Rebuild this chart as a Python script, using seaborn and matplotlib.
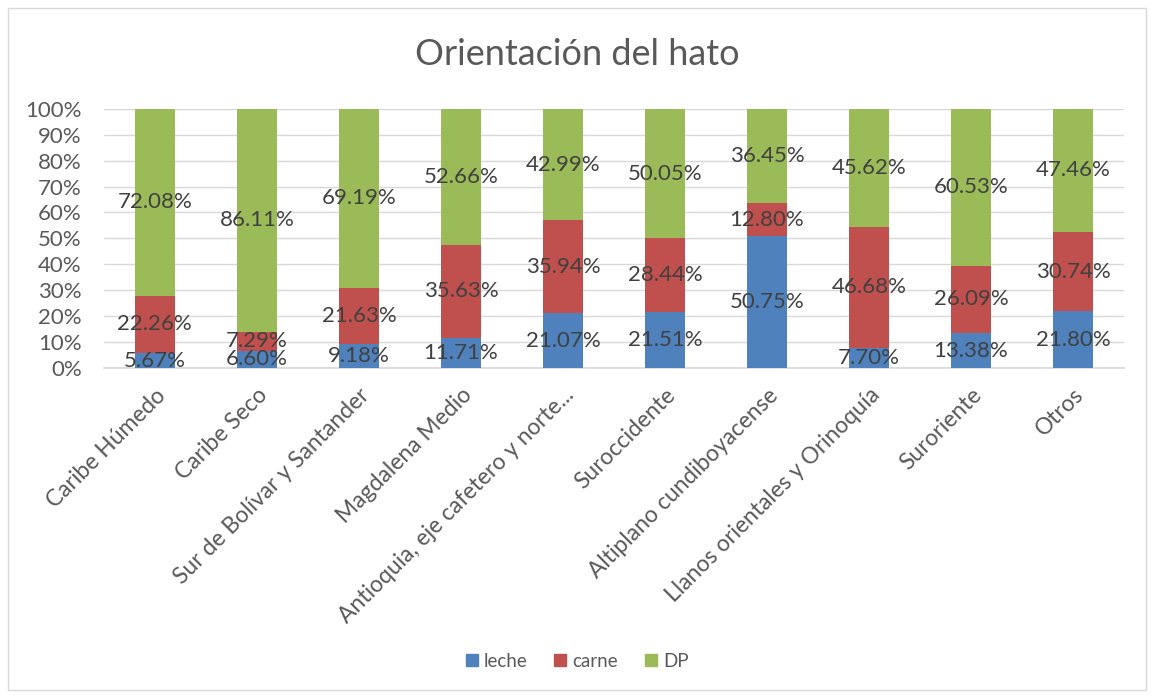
import numpy as np
import pandas as pd
import matplotlib
matplotlib.use("Agg")
import matplotlib.pyplot as plt
from matplotlib.patches import Rectangle
from matplotlib.lines import Line2D
import seaborn as sns

regions = ["Caribe Húmedo", "Caribe Seco", "Sur de Bolívar y Santander", "Magdalena Medio",
           "Antioquia, eje cafetero y norte...", "Suroccidente", "Altiplano cundiboyacense",
           "Llanos orientales y Orinoquía", "Suroriente", "Otros"]
leche = [5.67, 6.60, 9.18, 11.71, 21.07, 21.51, 50.75, 7.70, 13.38, 21.80]
carne = [22.26, 7.29, 21.63, 35.63, 35.94, 28.44, 12.80, 46.68, 26.09, 30.74]
dp = [72.08, 86.11, 69.19, 52.66, 42.99, 50.05, 36.45, 45.62, 60.53, 47.46]
series_names = ["leche", "carne", "DP"]
colors = ["#4F81BD", "#C0504D", "#9BBB59"]
yticks = [0, 10, 20, 30, 40, 50, 60, 70, 80, 90, 100]

sns.set_theme(style="white")
plt.rcParams['font.family'] = ['Lato', 'DejaVu Sans']

L = np.array(leche); C = np.array(carne); D = np.array(dp)
tot = L + C + D
Ln = L / tot; Cn = C / tot; Dn = D / tot
df = pd.DataFrame({"region": regions, "c1": Ln, "c2": Ln + Cn, "c3": Ln + Cn + Dn})

fig = plt.figure(figsize=(11.54, 6.98), dpi=100)
ax = fig.add_axes([0.090, 0.473, 0.884, 0.371])

for col, color in zip(["c3", "c2", "c1"], colors[::-1]):
    sns.barplot(data=df, x="region", y=col, order=regions, color=color, width=0.39,
                saturation=1, ax=ax, zorder=3, edgecolor="none", linewidth=0)

ax.set_ylim(0, 1)
ax.set_yticks([v / 100 for v in yticks])
ax.set_yticklabels([f"{v}%" for v in yticks], fontsize=16, color="#595959")
ax.yaxis.grid(True, color="#D9D9D9", linewidth=1, zorder=0)
ax.set_axisbelow(True)
ax.set_xlabel("")
ax.set_ylabel("")
for s in ["top", "right", "left"]:
    ax.spines[s].set_visible(False)
ax.spines["bottom"].set_color("#D9D9D9")
ax.tick_params(axis="y", length=0, pad=16)
ax.tick_params(axis="x", length=0, pad=12)
ax.set_xticks(range(len(regions)))
ax.set_xticklabels(regions, rotation=45, ha="right", rotation_mode="anchor",
                   fontsize=16.5, color="#595959")
ax.set_xlim(-0.5, len(regions) - 0.5)

# data labels at segment centres
for i in range(len(regions)):
    bottoms = [0, Ln[i], Ln[i] + Cn[i]]
    heights = [Ln[i], Cn[i], Dn[i]]
    vals = [leche[i], carne[i], dp[i]]
    for b, h, v in zip(bottoms, heights, vals):
        ax.text(i, b + h / 2, f"{v:.2f}%", ha="center", va="center", fontsize=16,
                color="#404040", zorder=5)

fig.text(0.5, 0.922, "Orientación del hato", ha="center", va="center", fontsize=26,
         color="#595959")

handles = [Line2D([0], [0], marker="s", linestyle="none", markersize=8,
                  markerfacecolor=c, markeredgecolor=c) for c in colors]
fig.legend(handles, series_names, loc="center", bbox_to_anchor=(0.5, 0.053), ncol=3,
           frameon=False, fontsize=13.5, handlelength=0.7, handletextpad=0.3,
           columnspacing=1.4, labelcolor="#595959")

fig.patches.append(Rectangle((0.007, 0.011), 0.986, 0.978, transform=fig.transFigure,
                             fill=False, edgecolor="#D9D9D9", linewidth=1))

fig.savefig("out.png", dpi=100, facecolor="white")
